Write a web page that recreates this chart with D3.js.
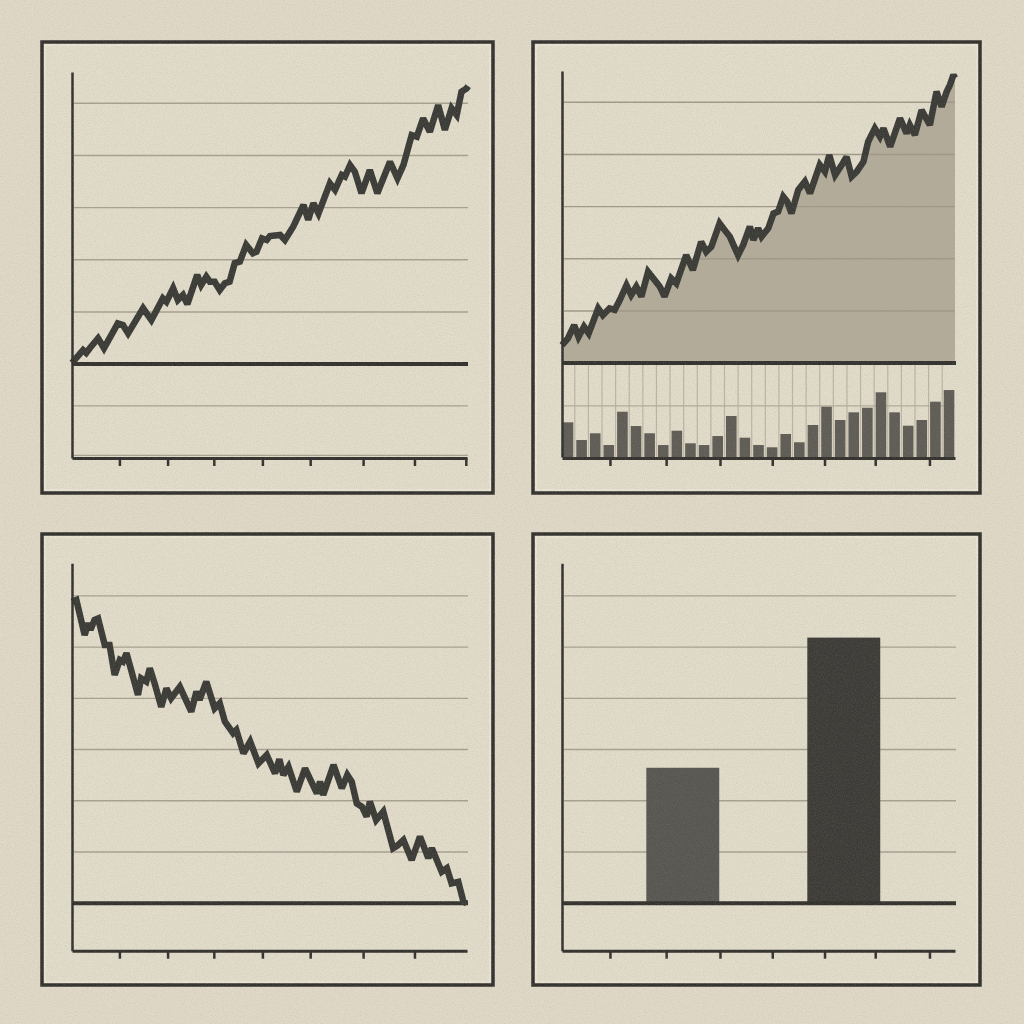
<!DOCTYPE html>
<html>
<head>
<meta charset="utf-8">
<script src="https://cdn.jsdelivr.net/npm/d3@7"></script>
<style>
  html, body { margin: 0; padding: 0; background: #e0d9c8; }
  svg { display: block; }
</style>
</head>
<body>
<svg id="chart" width="1024" height="1024"></svg>
<script>
// ---------------- DATA ----------------
// Panel 1: rising line (x in % of period, value in index units)
const risingDays = [0, 2.8, 3.6, 4.5, 6.6, 8.1, 11.6, 12.9, 14.2, 18.0, 20.1, 23.0, 23.9, 25.6, 26.8, 28.1, 29.2, 31.7, 32.7, 34.0, 34.9, 36.1, 37.4, 38.7, 39.9, 41.2, 42.5, 44.1, 45.8, 46.7, 48.1, 49.3, 50.1, 52.7, 53.9, 56.0, 58.6, 59.8, 61.1, 62.4, 65.3, 66.6, 68.3, 69.1, 70.4, 71.6, 73.3, 75.4, 77.3, 80.5, 82.4, 83.9, 86.0, 87.3, 88.9, 90.6, 92.7, 94.4, 96.1, 97.4, 98.6, 99.9, 100.3];
const risingValues = [0.5, 5.4, 4.3, 6.1, 9.9, 6.1, 15.6, 15.0, 11.8, 21.4, 16.9, 25.2, 23.9, 29.1, 24.6, 26.5, 23.0, 34.2, 30.3, 33.5, 31.6, 31.6, 28.4, 31.0, 31.6, 38.7, 39.3, 45.7, 42.5, 43.1, 48.2, 47.6, 49.1, 49.5, 47.6, 52.7, 61.0, 55.3, 61.7, 57.8, 69.3, 66.8, 72.5, 71.9, 76.3, 73.8, 65.5, 74.4, 65.5, 77.6, 71.2, 76.3, 87.8, 87.2, 94.2, 89.1, 99.3, 89.8, 98.1, 95.5, 104.4, 105.7, 106.6];
const risingTicks = [12, 24.2, 35.9, 48.2, 60.3, 73.7, 86.7, 99.7];
const risingGrid = [-35, -16, 20, 40, 60, 80, 100];

// Panel 2: price area + volume bars
const areaDays = [0, 1.5, 3.1, 4.2, 5.6, 6.8, 9.2, 10.4, 12.1, 13.4, 14.7, 16.4, 17.6, 18.9, 20.2, 21.9, 23.2, 24.9, 26.1, 27.8, 29.1, 31.6, 33.3, 35.4, 36.7, 38.0, 40.1, 41.4, 42.7, 44.8, 46.1, 47.8, 48.7, 49.9, 50.8, 52.5, 53.8, 55.0, 56.3, 57.3, 58.4, 60.1, 61.8, 63.1, 65.6, 66.9, 68.0, 69.5, 71.2, 72.4, 73.7, 75.0, 76.7, 77.9, 79.6, 80.9, 81.8, 83.5, 86.0, 87.7, 88.5, 89.8, 91.5, 93.6, 95.3, 96.6, 97.9, 98.7, 99.6, 100];
const areaValues = [6.9, 9.5, 14.6, 10.1, 14.0, 11.4, 21.0, 18.4, 21.0, 20.4, 24.2, 29.9, 26.1, 29.3, 25.5, 35.0, 32.5, 29.3, 25.5, 32.5, 30.6, 41.4, 35.7, 46.5, 42.7, 44.6, 53.6, 51.0, 48.5, 41.4, 45.3, 52.3, 47.2, 51.7, 48.5, 51.7, 57.4, 58.1, 63.8, 61.9, 57.4, 66.4, 69.6, 65.1, 76.0, 73.4, 79.8, 72.1, 76.0, 79.1, 71.5, 73.4, 77.2, 84.9, 90.0, 86.8, 90.0, 83.0, 93.9, 88.1, 91.3, 87.5, 97.0, 91.3, 104.1, 98.3, 104.1, 106.6, 110.5, 109.3];
const volumeValues = [33.9, 16.6, 23.2, 11.7, 44.3, 30.3, 23.2, 11.7, 25.7, 13.4, 11.7, 20.5, 40.1, 18.9, 11.7, 9.5, 22.5, 14.4, 31.3, 49.2, 36.2, 43.7, 48.2, 63.3, 43.7, 30.6, 36.2, 54.1, 65.5];
const areaTicks = [12.2, 26.5, 40.2, 53.5, 66.8, 79.7, 93.5];
const areaGrid = [20, 40, 60, 80, 100];
const volumeGrid = [50];

// Panel 3: falling line
const fallingDays = [0, 1.1, 3.2, 4.1, 4.7, 5.7, 6.6, 8.3, 9.5, 10.8, 12.1, 12.9, 13.8, 16.7, 17.5, 18.8, 19.7, 20.9, 22.6, 23.9, 25.1, 27.3, 30.2, 31.5, 32.3, 34.0, 36.1, 37.4, 38.7, 40.8, 41.6, 43.4, 45.1, 47.2, 49.3, 51.4, 52.5, 53.5, 54.8, 56.9, 59.0, 62.0, 62.8, 63.6, 66.2, 68.3, 69.7, 70.8, 72.1, 73.4, 74.6, 75.4, 77.0, 78.8, 81.3, 82.3, 83.9, 86.0, 88.1, 90.2, 91.1, 93.6, 94.9, 96.1, 97.8, 99.1, 99.9];
const fallingValues = [117.7, 118.4, 104.7, 109.3, 106.7, 110.6, 111.2, 100.8, 100.8, 89.1, 95.0, 94.3, 97.6, 81.3, 87.8, 86.5, 91.7, 85.9, 76.7, 83.9, 80.0, 84.5, 74.8, 82.6, 79.4, 86.5, 76.1, 78.1, 70.9, 66.4, 67.6, 58.5, 63.1, 54.6, 57.9, 50.7, 56.2, 50.1, 53.3, 43.6, 52.7, 42.9, 47.5, 42.3, 54.0, 44.9, 50.1, 47.5, 39.0, 37.7, 33.8, 39.7, 32.5, 35.8, 21.5, 22.4, 24.7, 16.9, 26.0, 17.6, 21.5, 12.3, 13.7, 7.8, 8.4, 0.6, 0];
const fallingTicks = [12, 24.2, 35.9, 48.2, 60.3, 73.7, 86.7];
const lowerGrid = [20, 40, 60, 80, 100, 120];

// Panel 4: two bars
const barCategories = ["A", "B"];
const barValues = [52.9, 103.7];
const barTicks = [12.2, 26.5, 40.2, 53.5, 66.8, 79.7, 93.5];

// ---------------- STYLE ----------------
const BG = "#e0d9c8";
const INK = "#32312d";
const LINE = "#3a3a36";
const GRID = "#a8a190";

const svg = d3.select("#chart");

// grain filter
const defs = svg.append("defs");
const f = defs.append("filter").attr("id", "grain").attr("x", 0).attr("y", 0).attr("width", "100%").attr("height", "100%");
f.append("feTurbulence").attr("type", "fractalNoise").attr("baseFrequency", 0.9).attr("numOctaves", 2).attr("seed", 3).attr("result", "n");
f.append("feColorMatrix").attr("type", "matrix")
  .attr("values", "0 0 0 0 0.35  0 0 0 0 0.32  0 0 0 0 0.26  0 0 0 0.9 -0.35");

svg.append("rect").attr("width", 1024).attr("height", 1024).attr("fill", BG);

function frame(x, y, w, h) {
  svg.append("rect").attr("x", x).attr("y", y).attr("width", w).attr("height", h)
    .attr("fill", "#e2dccb").attr("stroke", INK).attr("stroke-width", 3.5);
  svg.append("rect").attr("x", x + 3).attr("y", y + 3).attr("width", w - 6).attr("height", h - 6)
    .attr("fill", "none").attr("stroke", "#f0ebdd").attr("stroke-width", 1);
}

function gridlines(g, y, vals, x0, x1, color, width) {
  g.selectAll(null).data(vals).enter().append("line")
    .attr("x1", x0 + 2).attr("x2", x1)
    .attr("y1", d => y(d)).attr("y2", d => y(d))
    .attr("stroke", color || GRID).attr("stroke-width", width || 1.4);
}

function axes(g, x, y, ticks, yTop, axisY) {
  const xa = d3.axisBottom(x).tickValues(ticks).tickSize(8).tickSizeOuter(0).tickFormat("");
  const ax = g.append("g").attr("transform", `translate(0,${axisY})`).call(xa);
  ax.select(".domain").attr("stroke", INK).attr("stroke-width", 3);
  ax.selectAll(".tick line").attr("stroke", INK).attr("stroke-width", 2.5);
  const ya = d3.axisLeft(y).tickValues([]).tickSizeOuter(0);
  const ay = g.append("g").attr("transform", `translate(${x.range()[0]},0)`).call(ya);
  ay.select(".domain").attr("stroke", INK).attr("stroke-width", 2.5);
}

function baseline(g, x, y) {
  g.append("line").attr("x1", x.range()[0]).attr("x2", x.range()[1] + 1)
    .attr("y1", y(0)).attr("y2", y(0)).attr("stroke", INK).attr("stroke-width", 4);
}

function drawLine(g, x, y, xs, vs) {
  const pts = xs.map((d, i) => [d, vs[i]]);
  g.append("path").datum(pts)
    .attr("d", d3.line().x(d => x(d[0])).y(d => y(d[1])))
    .attr("fill", "none").attr("stroke", LINE).attr("stroke-width", 6.5)
    .attr("stroke-linejoin", "miter").attr("stroke-miterlimit", 2.5);
}

// ---------------- PANEL 1 ----------------
frame(42, 42, 451, 451);
{
  const g = svg.append("g");
  const x = d3.scaleLinear().domain([0, 100]).range([72, 467]);
  const y = d3.scaleLinear().domain([-36, 112]).range([458, 72]);
  gridlines(g, y, risingGrid, 72, 468);
  baseline(g, x, y);
  drawLine(g, x, y, risingDays, risingValues);
  axes(g, x, y, risingTicks, 72, 458);
}

// ---------------- PANEL 2 ----------------
frame(533, 42, 447, 451);
{
  const g = svg.append("g");
  const x = d3.scaleLinear().domain([0, 100]).range([562, 955]);
  const y = d3.scaleLinear().domain([-36, 112]).range([457, 71]);
  const yv = d3.scaleLinear().domain([0, 90]).range([457, 365]);
  const band = d3.scaleBand().domain(d3.range(volumeValues.length)).range([562, 955]).paddingInner(0.22).paddingOuter(0.05);
  const pts = areaDays.map((d, i) => [d, areaValues[i]]);
  g.append("path").datum(pts)
    .attr("d", d3.area().x(d => x(d[0])).y0(y(0)).y1(d => y(d[1])))
    .attr("fill", "#b3ac9a");
  gridlines(g, y, areaGrid, 562, 955, "#a09988");
  // volume section
  const seps = d3.range(volumeValues.length - 1);
  g.selectAll(null).data(seps).enter().append("line")
    .attr("x1", i => band(i) + band.bandwidth() + band.step() * band.paddingInner() / 2)
    .attr("x2", i => band(i) + band.bandwidth() + band.step() * band.paddingInner() / 2)
    .attr("y1", yv.range()[1]).attr("y2", yv.range()[0])
    .attr("stroke", "#bcb5a3").attr("stroke-width", 1.2);
  gridlines(g, yv, volumeGrid, 562, 955, "#b3ac9a");
  g.selectAll(null).data(volumeValues).enter().append("rect")
    .attr("x", (d, i) => band(i)).attr("width", band.bandwidth())
    .attr("y", d => yv(d)).attr("height", d => yv(0) - yv(d))
    .attr("fill", "#5e5c55");
  baseline(g, x, y);
  drawLine(g, x, y, areaDays, areaValues);
  axes(g, x, y, areaTicks, 71, 458);
}

// ---------------- PANEL 3 ----------------
frame(42, 534, 451, 451);
{
  const g = svg.append("g");
  const x = d3.scaleLinear().domain([0, 100]).range([72, 467]);
  const y = d3.scaleLinear().domain([-18.5, 132.7]).range([950.7, 563.3]);
  gridlines(g, y, lowerGrid, 72, 468);
  baseline(g, x, y);
  drawLine(g, x, y, fallingDays, fallingValues);
  axes(g, x, y, fallingTicks, 563, 950.7);
}

// ---------------- PANEL 4 ----------------
frame(533, 534, 447, 451);
{
  const g = svg.append("g");
  const x = d3.scaleLinear().domain([0, 100]).range([562, 955]);
  const y = d3.scaleLinear().domain([-18.5, 132.7]).range([950.7, 563.3]);
  const band = d3.scaleBand().domain(barCategories).range([562, 955]).paddingInner(0.547).paddingOuter(0.494).align(0.53);
  gridlines(g, y, lowerGrid, 562, 956);
  const colors = ["#575651", "#3c3b37"];
  g.selectAll(null).data(barValues).enter().append("rect")
    .attr("x", (d, i) => band(barCategories[i])).attr("width", band.bandwidth())
    .attr("y", d => y(d)).attr("height", d => y(0) - y(d))
    .attr("fill", (d, i) => colors[i]);
  baseline(g, x, y);
  axes(g, x, y, barTicks, 563, 950.7);
}

// grain overlay
svg.append("rect").attr("width", 1024).attr("height", 1024).attr("filter", "url(#grain)").attr("opacity", 0.45);
</script>
</body>
</html>
